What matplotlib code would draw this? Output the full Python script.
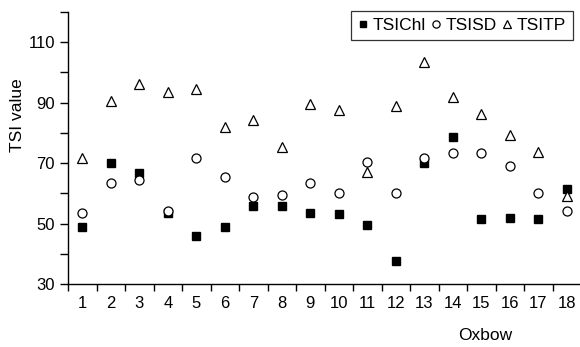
import numpy as np
import matplotlib.pyplot as plt

plt.rcParams['font.family'] = ['Liberation Sans', 'DejaVu Sans']

oxbow = np.arange(1, 19)
tsi_chl = [48.7, 70.2, 66.6, 53.6, 45.9, 49.0, 55.7, 55.7, 53.6, 53.3,
           49.5, 37.7, 69.9, 78.7, 51.5, 51.9, 51.5, 61.4]
tsi_sd = [53.6, 63.3, 64.3, 54.3, 71.7, 65.5, 58.8, 59.6, 63.3, 60.2,
          70.5, 60.2, 71.8, 73.4, 73.4, 68.9, 60.2, 54.3]
tsi_tp = [71.6, 90.5, 96.3, 93.6, 94.4, 81.8, 84.2, 75.3, 89.7, 87.5,
          67.2, 88.8, 103.5, 91.9, 86.1, 79.3, 73.8, 59.1]

fig = plt.figure(figsize=(5.8, 3.47), dpi=100)
ax = fig.add_axes([68 / 580, 1 - 284 / 347, 513 / 580, 272 / 347])

ax.plot(oxbow, tsi_chl, 's', color='black', markersize=5.8, label='TSIChl', zorder=3)
ax.plot(oxbow, tsi_tp, '^', markerfacecolor='white', markeredgecolor='black',
        markeredgewidth=0.9, markersize=7.5, label='TSITP', zorder=4)
ax.plot(oxbow, tsi_sd, 'o', markerfacecolor='white', markeredgecolor='black',
        markeredgewidth=0.9, markersize=6.5, label='TSISD', zorder=5)

ax.set_xlim(0.5, 18.5)
ax.set_ylim(30, 120)
ax.set_yticks([30, 50, 70, 90, 110])
ax.set_yticks([40, 60, 80, 100, 120], minor=True)
ax.set_xticks(oxbow)
ax.set_xticks(np.arange(0.5, 19, 1), minor=True)
ax.tick_params(axis='x', which='major', length=0, pad=9, labelsize=12)
ax.tick_params(axis='x', which='minor', length=5, width=1, direction='out')
ax.tick_params(axis='y', which='both', length=6, width=1, direction='out', labelsize=12)

for s in ['top', 'right']:
    ax.spines[s].set_visible(False)
for s in ['left', 'bottom']:
    ax.spines[s].set_linewidth(1)

ax.text((18 - 68) / 513, (284 - 115) / 272, 'TSI value', rotation=90,
        ha='center', va='center', fontsize=12.5, transform=ax.transAxes)
ax.text((485 - 68) / 513, (284 - 335) / 272, 'Oxbow',
        ha='center', va='center', fontsize=12.5, transform=ax.transAxes)

h, l = ax.get_legend_handles_labels()
order = [0, 2, 1]
leg = ax.legend([h[i] for i in order], [l[i] for i in order], ncol=3,
                loc='upper right', bbox_to_anchor=((573 - 68) / 513, 1.005),
                fontsize=12.5, frameon=True, fancybox=False, edgecolor='black',
                handlelength=0.6, handletextpad=0.25, columnspacing=0.3,
                markerscale=0.8, borderpad=0.4, borderaxespad=0)
leg.get_frame().set_linewidth(0.9)

fig.savefig('out.png', dpi=100)
